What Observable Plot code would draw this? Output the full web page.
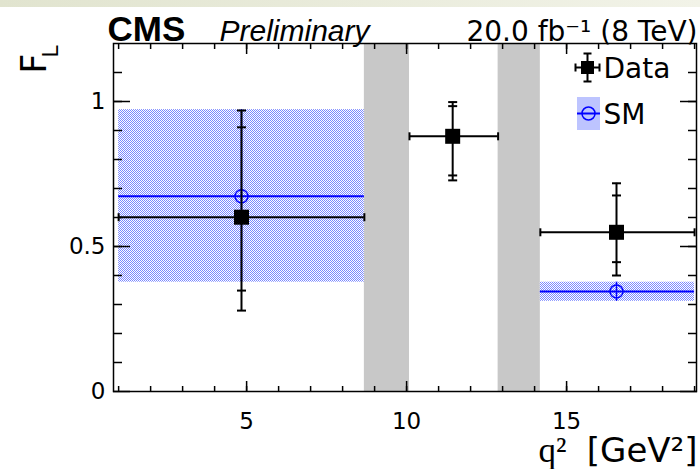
<!DOCTYPE html>
<html><head><meta charset="utf-8">
<script src="https://cdn.jsdelivr.net/npm/d3@7"></script>
<script src="https://cdn.jsdelivr.net/npm/@observablehq/plot@0.6"></script>
<style>
html,body{margin:0;padding:0;background:#fff;}
#wrap{position:relative;width:700px;height:469px;overflow:hidden;}
#wrap svg{position:absolute;left:0;top:0;display:block;}
#strip{position:absolute;left:0;top:0;width:700px;height:7px;z-index:2;background:linear-gradient(to right,#e1e4cf,#f2f3e8);}
</style></head><body><div id="wrap"><div id="strip"></div></div>
<script>
// ---- data ----
const binLo = [1.0, 10.09, 14.18];
const binHi = [8.68, 12.86, 19.0];
const dataX = [4.84, 11.44, 16.56];
const dataFL = [0.601, 0.880, 0.549];
const statUp = [0.310, 0.104, 0.127];
const statDn = [0.253, 0.135, 0.103];
const totUp  = [0.368, 0.118, 0.169];
const totDn  = [0.322, 0.152, 0.149];

const smLo = [1.0, 14.18];
const smHi = [8.68, 19.0];
const smX  = [4.84, 16.56];
const smFL = [0.673, 0.345];
const smUp = [0.299, 0.032];
const smDn = [0.296, 0.034];

const vetoLo = [8.68, 12.86];
const vetoHi = [10.09, 14.18];

const xMajor = [5, 10, 15];
const xMajorLabels = ["5", "10", "15"];
const xMinor = [1,2,3,4,5,6,7,8,9,10,11,12,13,14,15,16,17,18,19];
const yMajor = [0, 0.5, 1];
const yMajorLabels = ["0", "0.5", "1"];
const yMinor = [0.1,0.2,0.3,0.4,0.5,0.6,0.7,0.8,0.9,1.0,1.1];

const legendLabels = ["Data", "SM"];
const headerCMS = "CMS";
const headerPrelim = "Preliminary";
const headerLumi = "20.0 fb\u207B\u00B9 (8 TeV)";

// ---- tables ----
const dataRows = dataX.map((x, i) => ({x, lo: binLo[i], hi: binHi[i], fl: dataFL[i],
  su: statUp[i], sd: statDn[i], tu: totUp[i], td: totDn[i]}));
const smRows = smX.map((x, i) => ({x, lo: smLo[i], hi: smHi[i], fl: smFL[i], up: smUp[i], dn: smDn[i]}));
const vetoRows = vetoLo.map((lo, i) => ({lo, hi: vetoHi[i]}));
const capRows = dataRows.flatMap(d => [
  {x: d.x, y: d.fl + d.tu}, {x: d.x, y: d.fl - d.td},
  {x: d.x, y: d.fl + d.su}, {x: d.x, y: d.fl - d.sd}]);
const endRows = dataRows.flatMap(d => [{x: d.lo, y: d.fl}, {x: d.hi, y: d.fl}]);

// ---- custom symbols ----
const capH = {draw(c){ c.moveTo(-4.5,0); c.lineTo(4.5,0); }};
const capV = {draw(c){ c.moveTo(0,-4); c.lineTo(0,4); }};
const sq = {draw(c){ c.rect(-7.5,-7.5,15,15); }};
const sqSmall = {draw(c){ c.rect(-6.5,-6.5,13,13); }};
const legErr = {draw(c){
  c.moveTo(-12,0); c.lineTo(12,0); c.moveTo(0,-14); c.lineTo(0,14);
  c.moveTo(-4,-14); c.lineTo(4,-14); c.moveTo(-4,14); c.lineTo(4,14);
  c.moveTo(-12,-4); c.lineTo(-12,4); c.moveTo(12,-4); c.lineTo(12,4); }};
const legBox = {draw(c){ c.rect(-11.5,-16.5,23,33); }};
const legLine = {draw(c){ c.moveTo(-11.5,0); c.lineTo(11.5,0); }};

const BLUE = "#0000ff";
const FONT = "'DejaVu Sans', sans-serif";
const HELV = "'Liberation Sans', Arial, sans-serif";

const plot = Plot.plot({
  width: 700, height: 469,
  marginLeft: 113, marginRight: 4, marginTop: 43, marginBottom: 78,
  style: {fontFamily: FONT, fontSize: "23px", color: "black", background: "white", overflow: "visible"},
  x: {domain: [0.84, 19.06], label: null},
  y: {domain: [0, 1.2], label: null},
  marks: [
    Plot.rect(vetoRows, {x1: "lo", x2: "hi", fill: "#c8c8c8"}),
    Plot.rect(smRows, {x1: "lo", x2: "hi", y1: d => d.fl - d.dn, y2: d => d.fl + d.up, fill: "url(#smDots)"}),
    Plot.ruleY(smRows, {y: "fl", x1: "lo", x2: "hi", stroke: BLUE, strokeWidth: 2}),
    Plot.ruleX(smRows, {x: "x", y1: d => d.fl - d.dn, y2: d => d.fl + d.up, stroke: BLUE, strokeWidth: 1.5}),
    Plot.dot(smRows, {x: "x", y: "fl", r: 6.5, stroke: BLUE, strokeWidth: 1.5, fill: "none"}),
    Plot.ruleY(dataRows, {y: "fl", x1: "lo", x2: "hi", stroke: "black", strokeWidth: 2}),
    Plot.ruleX(dataRows, {x: "x", y1: d => d.fl - d.td, y2: d => d.fl + d.tu, stroke: "black", strokeWidth: 2}),
    Plot.dot(capRows, {x: "x", y: "y", symbol: capH, stroke: "black", strokeWidth: 2, fill: "none"}),
    Plot.dot(endRows, {x: "x", y: "y", symbol: capV, stroke: "black", strokeWidth: 2, fill: "none"}),
    Plot.dot(dataRows, {x: "x", y: "fl", symbol: sq, fill: "black", stroke: "none"}),
    Plot.frame({stroke: "black", strokeWidth: 1.5}),
    // inward ticks on all four sides
    Plot.axisY({anchor: "left", ticks: yMinor, tickSize: 9, dx: 9, fill: "none", strokeWidth: 1.5}),
    Plot.axisY({anchor: "left", ticks: yMajor, tickSize: 17, dx: 17, fill: "none", strokeWidth: 1.5}),
    Plot.axisY({anchor: "right", ticks: yMinor, tickSize: 9, dx: -9, fill: "none", strokeWidth: 1.5}),
    Plot.axisY({anchor: "right", ticks: yMajor, tickSize: 17, dx: -17, fill: "none", strokeWidth: 1.5}),
    Plot.axisX({anchor: "bottom", ticks: xMinor, tickSize: 5, dy: -5, fill: "none", strokeWidth: 1.5}),
    Plot.axisX({anchor: "bottom", ticks: xMajor, tickSize: 10, dy: -10, fill: "none", strokeWidth: 1.5}),
    Plot.axisX({anchor: "top", ticks: xMinor, tickSize: 5, dy: 5, fill: "none", strokeWidth: 1.5}),
    Plot.axisX({anchor: "top", ticks: xMajor, tickSize: 10, dy: 10, fill: "none", strokeWidth: 1.5}),
    // tick labels
    Plot.axisY({anchor: "left", ticks: yMajor, tickSize: 0, tickPadding: 8, label: null, fontSize: 23,
      tickFormat: d => yMajorLabels[yMajor.indexOf(d)]}),
    Plot.axisX({anchor: "bottom", ticks: xMajor, tickSize: 0, tickPadding: 21, label: null, fontSize: 23,
      tickFormat: d => xMajorLabels[xMajor.indexOf(d)]}),
    // header
    Plot.text([headerCMS], {frameAnchor: "top-left", text: d => d, dx: -6, dy: -3, lineAnchor: "bottom",
      textAnchor: "start", fontWeight: "bold", fontSize: 35, fontFamily: HELV}),
    Plot.text([headerPrelim], {frameAnchor: "top-left", text: d => d, dx: 106, dy: -3, lineAnchor: "bottom",
      textAnchor: "start", fontStyle: "italic", fontSize: 30, fontFamily: HELV}),
    Plot.text([headerLumi], {frameAnchor: "top-right", text: d => d, dx: 1, dy: -3, lineAnchor: "bottom",
      textAnchor: "end", fontSize: 28}),
    // axis titles
    Plot.text(["F"], {frameAnchor: "top-left", text: d => d, dx: -68, dy: 10, rotate: -90,
      lineAnchor: "bottom", textAnchor: "end", fontSize: 35}),
    Plot.text(["L"], {frameAnchor: "top-left", text: d => d, dx: -56, dy: 2, rotate: -90,
      lineAnchor: "bottom", textAnchor: "end", fontSize: 22}),
    Plot.text(["[GeV\u00B2]"], {frameAnchor: "bottom-right", text: d => d, dx: 1, dy: 70,
      lineAnchor: "bottom", textAnchor: "end", fontSize: 34}),
    Plot.text(["q\u00B2"], {frameAnchor: "bottom-right", text: d => d, dx: -158, dy: 70,
      lineAnchor: "bottom", textAnchor: "start", fontSize: 35, fontFamily: "'Liberation Serif', serif"}),
    // legend
    Plot.dot([legendLabels[0]], {frameAnchor: "top-right", dx: -109, dy: 24, symbol: legErr, stroke: "black", strokeWidth: 2, fill: "none"}),
    Plot.dot([legendLabels[0]], {frameAnchor: "top-right", dx: -109, dy: 24, symbol: sqSmall, fill: "black", stroke: "none"}),
    Plot.text([legendLabels[0]], {frameAnchor: "top-right", text: d => d, dx: -93, dy: 34, lineAnchor: "bottom", textAnchor: "start", fontSize: 28}),
    Plot.dot([legendLabels[1]], {frameAnchor: "top-right", dx: -108, dy: 70, symbol: legBox, fill: "url(#smDots)", stroke: "none"}),
    Plot.dot([legendLabels[1]], {frameAnchor: "top-right", dx: -108, dy: 70, symbol: legLine, stroke: BLUE, strokeWidth: 2, fill: "none"}),
    Plot.dot([legendLabels[1]], {frameAnchor: "top-right", dx: -108, dy: 70, r: 6.5, stroke: BLUE, strokeWidth: 1.5, fill: "none"}),
    Plot.text([legendLabels[1]], {frameAnchor: "top-right", text: d => d, dx: -93, dy: 80, lineAnchor: "bottom", textAnchor: "start", fontSize: 28})
  ]
});

// dotted fill pattern for the SM band
const svg = d3.select(plot);
const defs = svg.insert("defs", ":first-child");
const pat = defs.append("pattern").attr("id", "smDots").attr("patternUnits", "userSpaceOnUse")
  .attr("width", 2).attr("height", 2);
pat.append("rect").attr("width", 2).attr("height", 2).attr("fill", "#ffffff");
pat.append("rect").attr("x", 0).attr("y", 0).attr("width", 1).attr("height", 1).attr("fill", "#7a88ff");
pat.append("rect").attr("x", 1).attr("y", 1).attr("width", 1).attr("height", 1).attr("fill", "#7a88ff");

document.getElementById("wrap").prepend(plot);
</script></body></html>
